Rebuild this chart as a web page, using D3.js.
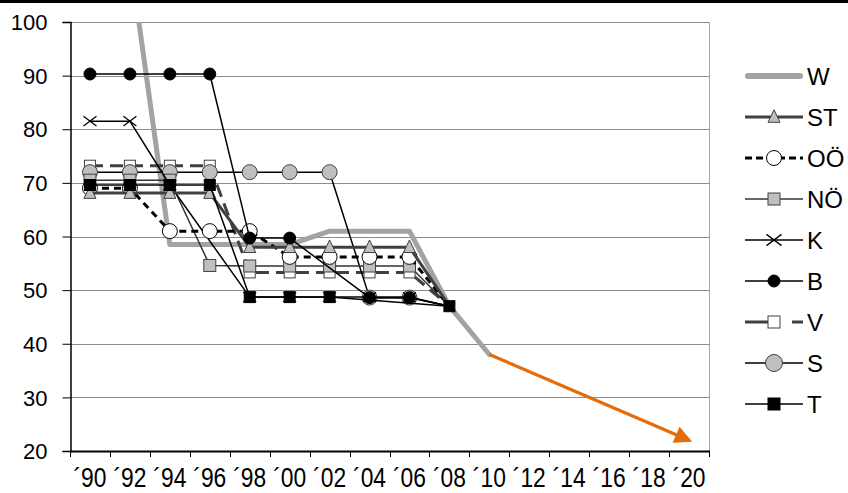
<!DOCTYPE html>
<html>
<head>
<meta charset="utf-8">
<script src="https://cdn.jsdelivr.net/npm/d3@7"></script>
<style>
  html, body { margin: 0; padding: 0; background: #fff; }
  svg { display: block; font-family: "Liberation Sans", Arial, sans-serif; }
</style>
</head>
<body>
<svg id="chart" width="848" height="493"></svg>
<script>
// Survey years (data points) and the axis categories
const years = [1990, 1992, 1994, 1996, 1998, 2000, 2002, 2004, 2006, 2008, 2010];
const tickYears = d3.range(1990, 2021, 2);
const yTicks = [20, 30, 40, 50, 60, 70, 80, 90, 100];

// Values per region (null = no value that year; the line is joined across it)
const valuesW  = [null, 112, 58.5, 58.5, 58.5, 58.5, 61, 61, 61, 47, 38];
const valuesST = [68.1, 68.1, 68.1, 68.1, 58, 58, 58, 58, 58, 47, null];
const valuesOO = [69, 69, 61, 61, 61, 56.2, 56.2, 56.2, 56.2, 47, null];
const valuesNO = [70.5, 70.5, 70.5, 54.6, 54.5, 54.5, 54.5, 54.5, 54.5, 47, null];
const valuesK  = [81.5, 81.5, 69.6, null, 48.7, 48.7, 48.7, 48.7, 48.7, 47, null];
const valuesB  = [90.3, 90.3, 90.3, 90.3, 59.7, 59.7, null, 48.6, 48.6, 47, null];
const valuesV  = [73.2, 73.2, 73.2, 73.2, 53.3, 53.3, 53.3, 53.3, 53.3, 47, null];
const valuesS  = [72, 72, 72, 72, 72, 72, 72, 48.6, 48.6, 47, null];
const valuesT  = [69.6, 69.6, 69.6, 69.6, 48.7, 48.7, 48.7, null, null, 47, null];

// Projected trend 2010 -> 2020
const trendYears = [2010, 2020];
const trendValues = [38, 22];

// Common end point: only the T marker is shown there
const sharedEndYears = [2008];

const seriesNames = ["W", "ST", "OÖ", "NÖ", "K", "B", "V", "S", "T"];

// Styles per series
const styles = {
  "W":  { values: valuesW,  stroke: "#a3a3a3", width: 5,   dash: null,   marker: null },
  "ST": { values: valuesST, stroke: "#404040", width: 3,   dash: null,   marker: "triangle", fill: "#bfbfbf", mstroke: "#404040", size: 12 },
  "OÖ": { values: valuesOO, stroke: "#000",    width: 3,   dash: "7,5",  marker: "circle", fill: "#fff", mstroke: "#000", size: 7.5 },
  "NÖ": { values: valuesNO, stroke: "#333",    width: 1.5, dash: null,   marker: "square", fill: "#bfbfbf", mstroke: "#404040", size: 12 },
  "K":  { values: valuesK,  stroke: "#000",    width: 1.5, dash: null,   marker: "x", fill: "none", mstroke: "#000", size: 13 },
  "B":  { values: valuesB,  stroke: "#000",    width: 1.5, dash: null,   marker: "circle", fill: "#000", mstroke: "#000", size: 6 },
  "V":  { values: valuesV,  stroke: "#404040", width: 3,   dash: "13,7", marker: "square", fill: "#fff", mstroke: "#404040", size: 11 },
  "S":  { values: valuesS,  stroke: "#000",    width: 1.5, dash: null,   marker: "circle", fill: "#bfbfbf", mstroke: "#404040", size: 7.5 },
  "T":  { values: valuesT,  stroke: "#000",    width: 1.5, dash: null,   marker: "square", fill: "#000", mstroke: "#000", size: 11 }
};

// Drawing order (later ones on top)
const drawOrder = ["W", "V", "S", "NÖ", "K", "OÖ", "ST", "B", "T"];

const svg = d3.select("#chart");
const plotLeft = 70, plotRight = 709, plotTop = 22, plotBottom = 451;

const xBand = d3.scaleBand().domain(tickYears).range([plotLeft, plotRight]).paddingInner(0).paddingOuter(0);
const xPos = yr => xBand(yr) + xBand.bandwidth() / 2;
const y = d3.scaleLinear().domain([20, 100]).range([plotBottom, plotTop]);

// Black band at the very top
svg.append("rect").attr("x", 0).attr("y", 0).attr("width", 848).attr("height", 3).attr("fill", "#000");

// Gridlines
svg.append("g").selectAll("line").data(yTicks.filter(v => v > 20)).join("line")
  .attr("x1", plotLeft).attr("x2", plotRight)
  .attr("y1", d => Math.round(y(d)) + 0.5).attr("y2", d => Math.round(y(d)) + 0.5)
  .attr("stroke", "#8c8c8c").attr("stroke-width", 1);
// Right border of the plot area
svg.append("line").attr("x1", plotRight + 0.5).attr("x2", plotRight + 0.5).attr("y1", plotTop).attr("y2", plotBottom)
  .attr("stroke", "#a6a6a6");

// Y axis
const yAxis = d3.axisLeft(y).tickValues(yTicks).tickSize(8).tickPadding(15).tickFormat(d3.format("d"));
const gy = svg.append("g").attr("transform", `translate(${plotLeft + 0.5},0)`).call(yAxis);
gy.select(".domain").attr("stroke", "#000").attr("stroke-width", 1.5);
gy.selectAll(".tick line").attr("stroke", "#000");
gy.selectAll(".tick text").attr("font-size", 22).attr("fill", "#000")
  .attr("font-family", "Liberation Sans, Arial, sans-serif").attr("dy", "0.35em");

// X axis (narrow labels in band centers, tick marks on band edges)
const xAxis = d3.axisBottom(xBand).tickSize(0).tickPadding(0).tickFormat(d => "\u00b4" + String(d).slice(2));
const gx = svg.append("g").attr("transform", `translate(0,${plotBottom})`).call(xAxis);
gx.select(".domain").remove();
gx.selectAll(".tick text").attr("font-size", 28).attr("fill", "#000")
  .attr("font-family", "Liberation Sans, Arial, sans-serif")
  .attr("y", 36).attr("dy", 0)
  .attr("textLength", 33).attr("lengthAdjust", "spacingAndGlyphs");
svg.append("g").selectAll("line").data(tickYears.concat([null])).join("line")
  .attr("x1", (d, i) => Math.round(plotLeft + i * xBand.bandwidth()) + 0.5)
  .attr("x2", (d, i) => Math.round(plotLeft + i * xBand.bandwidth()) + 0.5)
  .attr("y1", plotBottom).attr("y2", plotBottom + 6)
  .attr("stroke", "#000");
svg.append("line").attr("x1", plotLeft).attr("x2", plotRight + 1).attr("y1", plotBottom + 0.5).attr("y2", plotBottom + 0.5)
  .attr("stroke", "#000").attr("stroke-width", 2);

// Clip for the series
const defs = svg.append("defs");
defs.append("clipPath").attr("id", "plotclip")
  .append("rect").attr("x", plotLeft).attr("y", plotTop).attr("width", plotRight - plotLeft).attr("height", plotBottom - plotTop);

const line = d3.line().x(d => xPos(d.year)).y(d => y(d.value));

function drawMarker(g, type, cx, cy, st) {
  const s = st.size;
  if (type === "circle") {
    g.append("circle").attr("cx", cx).attr("cy", cy).attr("r", s)
      .attr("fill", st.fill).attr("stroke", st.mstroke).attr("stroke-width", 1);
  } else if (type === "square") {
    g.append("rect").attr("x", cx - s / 2).attr("y", cy - s / 2).attr("width", s).attr("height", s)
      .attr("fill", st.fill).attr("stroke", st.mstroke).attr("stroke-width", 1);
  } else if (type === "triangle") {
    const h = s * 1.05;
    g.append("path").attr("d", `M${cx},${cy - h / 2 - 1}L${cx + s / 2},${cy + h / 2 - 1}L${cx - s / 2},${cy + h / 2 - 1}Z`)
      .attr("fill", st.fill).attr("stroke", st.mstroke).attr("stroke-width", 1);
  } else if (type === "x") {
    const r = s / 2;
    g.append("path").attr("d", `M${cx - r},${cy - r * 0.75}L${cx + r},${cy + r * 0.75}M${cx - r},${cy + r * 0.75}L${cx + r},${cy - r * 0.75}`)
      .attr("stroke", st.mstroke).attr("stroke-width", 1.3).attr("fill", "none");
  }
}

const plot = svg.append("g").attr("clip-path", "url(#plotclip)");
drawOrder.forEach(name => {
  const st = styles[name];
  const pts = years.map((yr, i) => ({ year: yr, value: st.values[i] })).filter(d => d.value !== null);
  const g = plot.append("g");
  g.append("path").datum(pts).attr("d", line)
    .attr("fill", "none").attr("stroke", st.stroke).attr("stroke-width", st.width)
    .attr("stroke-dasharray", st.dash).attr("stroke-linejoin", "round")
    .attr("stroke-linecap", name === "W" ? "round" : "butt");
  if (st.marker) {
    pts.filter(d => name === "T" || !sharedEndYears.includes(d.year))
      .forEach(d => drawMarker(g, st.marker, xPos(d.year), y(d.value), st));
  }
});

// Orange trend arrow
defs.append("marker").attr("id", "arrowhead").attr("viewBox", "0 0 10 10")
  .attr("refX", 8).attr("refY", 5).attr("markerWidth", 6.5).attr("markerHeight", 5.5).attr("orient", "auto")
  .attr("markerUnits", "strokeWidth")
  .append("path").attr("d", "M0,0L10,5L0,10Z").attr("fill", "#e46c0a");
const trend = trendYears.map((yr, i) => ({ year: yr, value: trendValues[i] }));
svg.append("path").datum(trend).attr("d", line)
  .attr("fill", "none").attr("stroke", "#e46c0a").attr("stroke-width", 3.2)
  .attr("marker-end", "url(#arrowhead)");

// Legend
const legendDash = { "OÖ": "7,4", "V": "23,24,12" };
const legend = svg.append("g");
seriesNames.forEach((name, i) => {
  const st = styles[name];
  const cy = 76 + i * 41;
  const g = legend.append("g");
  g.append("line").attr("x1", name === "W" ? 748 : 745).attr("x2", name === "W" ? 800 : 803).attr("y1", cy).attr("y2", cy)
    .attr("stroke", st.stroke).attr("stroke-width", name === "W" ? 6 : st.width)
    .attr("stroke-dasharray", legendDash[name] || null)
    .attr("stroke-linecap", name === "W" ? "round" : "butt");
  if (st.marker) {
    const ms = Object.assign({}, st);
    if (st.marker === "circle") ms.size = name === "B" ? 6 : (name === "S" ? 8.5 : 7.5);
    else if (st.marker === "square") ms.size = 12;
    else if (st.marker === "x") ms.size = 15;
    drawMarker(g, st.marker, 774, cy, ms);
  }
  g.append("text").attr("x", 807).attr("y", cy).attr("dy", "0.36em")
    .attr("font-size", 24).attr("fill", "#000").text(name);
});
</script>
</body>
</html>
